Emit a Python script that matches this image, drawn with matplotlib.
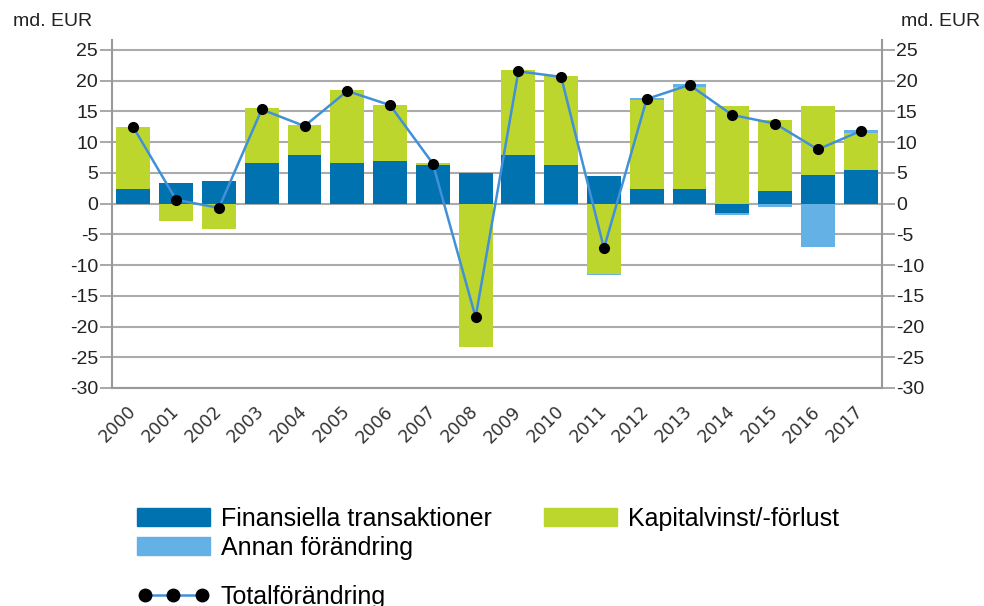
import numpy as np
import matplotlib
matplotlib.use("Agg")
import matplotlib.pyplot as plt
from matplotlib.patches import Patch
from matplotlib.lines import Line2D

years = [str(y) for y in range(2000, 2018)]
finansiella = [2.4, 3.3, 3.7, 6.6, 7.9, 6.6, 7.0, 6.3, 5.0, 7.9, 6.3, 4.4, 2.4, 2.4, -1.6, 2.0, 4.7, 5.4]
kapital = [10.1, -2.8, -4.2, 8.9, 4.9, 11.9, 9.1, 0.3, -23.4, 13.8, 14.5, -11.4, 14.4, 16.5, 15.8, 11.6, 11.1, 6.1]
annan = [0.0, 0.0, 0.0, 0.0, 0.0, 0.0, 0.0, 0.0, 0.0, 0.0, -0.2, -0.3, 0.3, 0.5, -0.2, -0.5, -7.0, 0.5]
total = [12.4, 0.6, -0.7, 15.3, 12.6, 18.3, 16.0, 6.5, -18.5, 21.5, 20.6, -7.3, 17.0, 19.3, 14.4, 13.0, 8.8, 11.8]
yticks = list(range(-30, 26, 5))

series = [("Finansiella transaktioner", finansiella, "#0072B0"),
          ("Kapitalvinst/-förlust", kapital, "#BDD62E"),
          ("Annan förändring", annan, "#63B1E5")]

plt.rcParams['font.family'] = ['Liberation Sans', 'DejaVu Sans']
W, H = 984, 606
fig = plt.figure(figsize=(W / 100, H / 100), dpi=100)
ax = fig.add_axes([112 / W, 1 - 388 / H, (882 - 112) / W, (388 - 40) / H])

x = np.arange(len(years))
pos_base = np.zeros(len(years))
neg_base = np.zeros(len(years))
for name, vals, col in series:
    v = np.array(vals, dtype=float)
    bottom = np.where(v >= 0, pos_base, neg_base)
    ax.bar(x, v, 0.79, bottom=bottom, color=col, zorder=3, linewidth=0)
    pos_base = pos_base + np.where(v > 0, v, 0)
    neg_base = neg_base + np.where(v < 0, v, 0)

ax.plot(x, total, color="#4190D8", lw=1.8, marker='o', markersize=7,
        markerfacecolor='black', markeredgecolor='black', zorder=5)

ax.set_xlim(-0.5, 17.5)
ax.set_ylim(-30, 26.6)
ax.set_yticks(yticks)
ax.set_yticklabels([str(t) for t in yticks], fontsize=14, color='#222222')
ax.yaxis.grid(True, color='#ABABAB', lw=1.5, zorder=0)
ax.set_axisbelow(True)
ax.tick_params(axis='y', length=9, width=1.2, color='#999999', pad=1)
ax.tick_params(axis='x', length=0, pad=15)
ax.set_xticks(x)
ax.set_xticklabels(years, rotation=45, ha='right', va='center', rotation_mode='anchor',
                   fontsize=12.5, family='DejaVu Sans', color='#333333')
ax.spines['top'].set_visible(False)
for s in ['left', 'right', 'bottom']:
    ax.spines[s].set_color('#999999')
    ax.spines[s].set_linewidth(1.5)

ax2 = ax.twinx()
ax2.set_ylim(ax.get_ylim())
ax2.set_yticks(yticks)
ax2.set_yticklabels([str(t) for t in yticks], fontsize=14, color='#222222')
ax2.tick_params(axis='y', length=9, width=1.2, color='#999999', pad=1)
for s in ['top', 'left', 'right', 'bottom']:
    ax2.spines[s].set_visible(False)

fig.text(13 / W, 1 - 22 / H, "md. EUR", fontsize=14, color='#222222', va='center', ha='left')
fig.text(980 / W, 1 - 22 / H, "md. EUR", fontsize=14, color='#222222', va='center', ha='right')

handles = [Patch(color=series[0][2], label=series[0][0]),
           Patch(color=series[2][2], label=series[2][0]),
           Patch(color=series[1][2], label=series[1][0])]
fig.legend(handles=handles, ncol=2, loc='upper left', bbox_to_anchor=(137 / W, 1 - 507 / H),
           frameon=False, fontsize=18, handlelength=2.9, handleheight=0.75,
           handletextpad=0.45, columnspacing=2.1, labelspacing=0.2, borderaxespad=0,
           borderpad=0)
lh = Line2D([0], [0], color="#4190D8", lw=1.8, marker='o', markersize=9,
            markerfacecolor='black', markeredgecolor='black')
fig.legend(handles=[lh], labels=["Totalförändring"], loc='upper left',
           bbox_to_anchor=(137 / W, 1 - 585 / H), frameon=False, fontsize=18,
           handlelength=2.9, numpoints=3, handletextpad=0.45, borderaxespad=0, borderpad=0)
fig.savefig("out.png", dpi=100)
